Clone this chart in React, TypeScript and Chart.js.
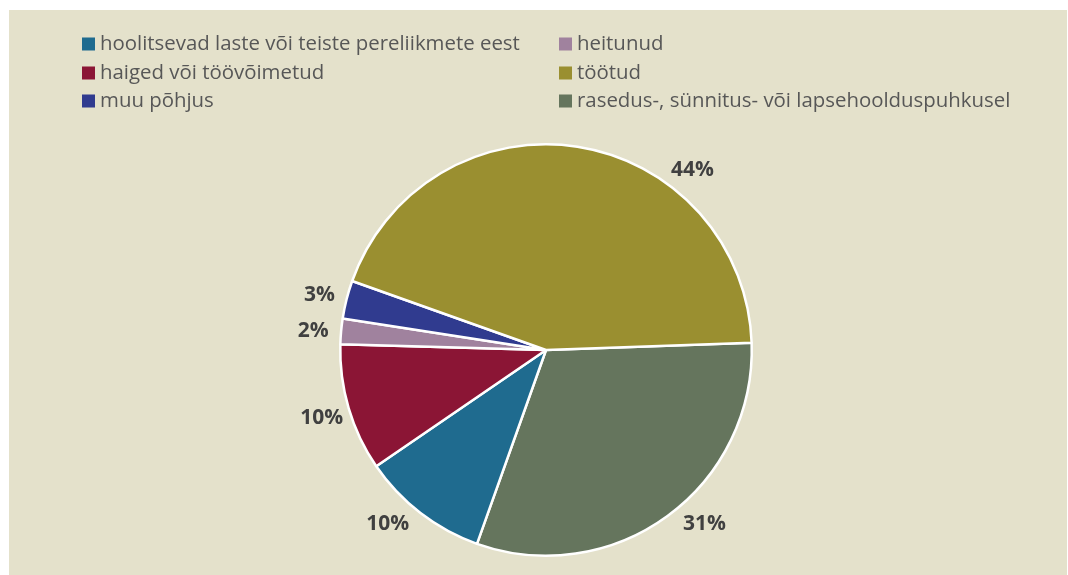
import React, { useEffect, useRef } from "react";
import { Chart, registerables } from "chart.js";

Chart.register(...registerables);

const categories = [
  "rasedus-, sünnitus- või lapsehoolduspuhkusel",
  "hoolitsevad laste või teiste pereliikmete eest",
  "haiged või töövõimetud",
  "heitunud",
  "muu põhjus",
  "töötud",
];
const values = [31, 10, 10, 2, 3, 44];
const percentLabels = ["31%", "10%", "10%", "2%", "3%", "44%"];
const sliceColors = ["#65755d", "#1f6b8f", "#8b1535", "#a0829e", "#303b8f", "#9a8f30"];
// legend grid, row-major, two columns (indices into categories)
const legendOrder = [1, 3, 2, 5, 4, 0];

const BG = "#e4e1cb";

const legendPlugin = {
  id: "gridLegend",
  afterDraw(chart: any, _args: any, opts: any) {
    const ctx = chart.ctx;
    ctx.save();
    ctx.font = `${opts.fontSize}px "Open Sans"`;
    ctx.textBaseline = "middle";
    ctx.textAlign = "left";
    legendOrder.forEach((idx, i) => {
      const col = i % 2;
      const row = Math.floor(i / 2);
      const x = opts.colX[col];
      const y = opts.rowY[row];
      ctx.fillStyle = sliceColors[idx];
      ctx.fillRect(x, y - opts.box / 2, opts.box, opts.box);
      ctx.fillStyle = opts.color;
      ctx.fillText(categories[idx], x + opts.box + opts.gap, y);
    });
    ctx.restore();
  },
};

const labelPlugin = {
  id: "pctLabels",
  afterDatasetsDraw(chart: any, _args: any, opts: any) {
    const ctx = chart.ctx;
    const meta = chart.getDatasetMeta(0);
    ctx.save();
    ctx.font = `bold ${opts.fontSize}px "Open Sans"`;
    ctx.fillStyle = opts.color;
    ctx.textAlign = "center";
    ctx.textBaseline = "middle";
    meta.data.forEach((arc: any, i: number) => {
      const { x, y, startAngle, endAngle, outerRadius } = arc.getProps(
        ["x", "y", "startAngle", "endAngle", "outerRadius"],
        true
      );
      const mid = (startAngle + endAngle) / 2 + ((opts.angleShift[i] || 0) * Math.PI) / 180;
      const r = outerRadius + opts.offset;
      ctx.fillText(
        percentLabels[i],
        x + Math.cos(mid) * r,
        y + Math.sin(mid) * r + opts.dy
      );
    });
    ctx.restore();
  },
};

export default function App() {
  const ref = useRef<HTMLCanvasElement | null>(null);
  useEffect(() => {
    document.documentElement.style.overflow = "hidden";
    document.body.style.overflow = "hidden";
    if (!ref.current) return;
    const chart = new Chart(ref.current, {
      type: "pie",
      data: {
        labels: categories,
        datasets: [
          {
            data: values,
            backgroundColor: sliceColors,
            borderColor: "#ffffff",
            borderWidth: 2.5,
          },
        ],
      },
      plugins: [legendPlugin, labelPlugin],
      options: {
        animation: false,
        responsive: false,
        rotation: 88,
        layout: { padding: { left: 330, right: 314, top: 133, bottom: 18 } },
        plugins: {
          legend: { display: false },
          tooltip: { enabled: false },
          gridLegend: {
            fontSize: 20.4,
            colX: [73, 550],
            rowY: [34, 63, 91],
            box: 13,
            gap: 5,
            color: "#575757",
          },
          pctLabels: {
            fontSize: 21,
            color: "#404040",
            offset: 28,
            dy: 2,
            angleShift: [-6.5, 5, 0, 0, 0, 30],
          },
        } as any,
      },
    });
    return () => chart.destroy();
  }, []);
  return (
    <div
      style={{
        position: "fixed",
        left: 9,
        top: 10,
        width: 1058,
        height: 565,
        background: BG,
      }}
    >
      <canvas ref={ref} width={1058} height={565} style={{ display: "block" }} />
    </div>
  );
}
